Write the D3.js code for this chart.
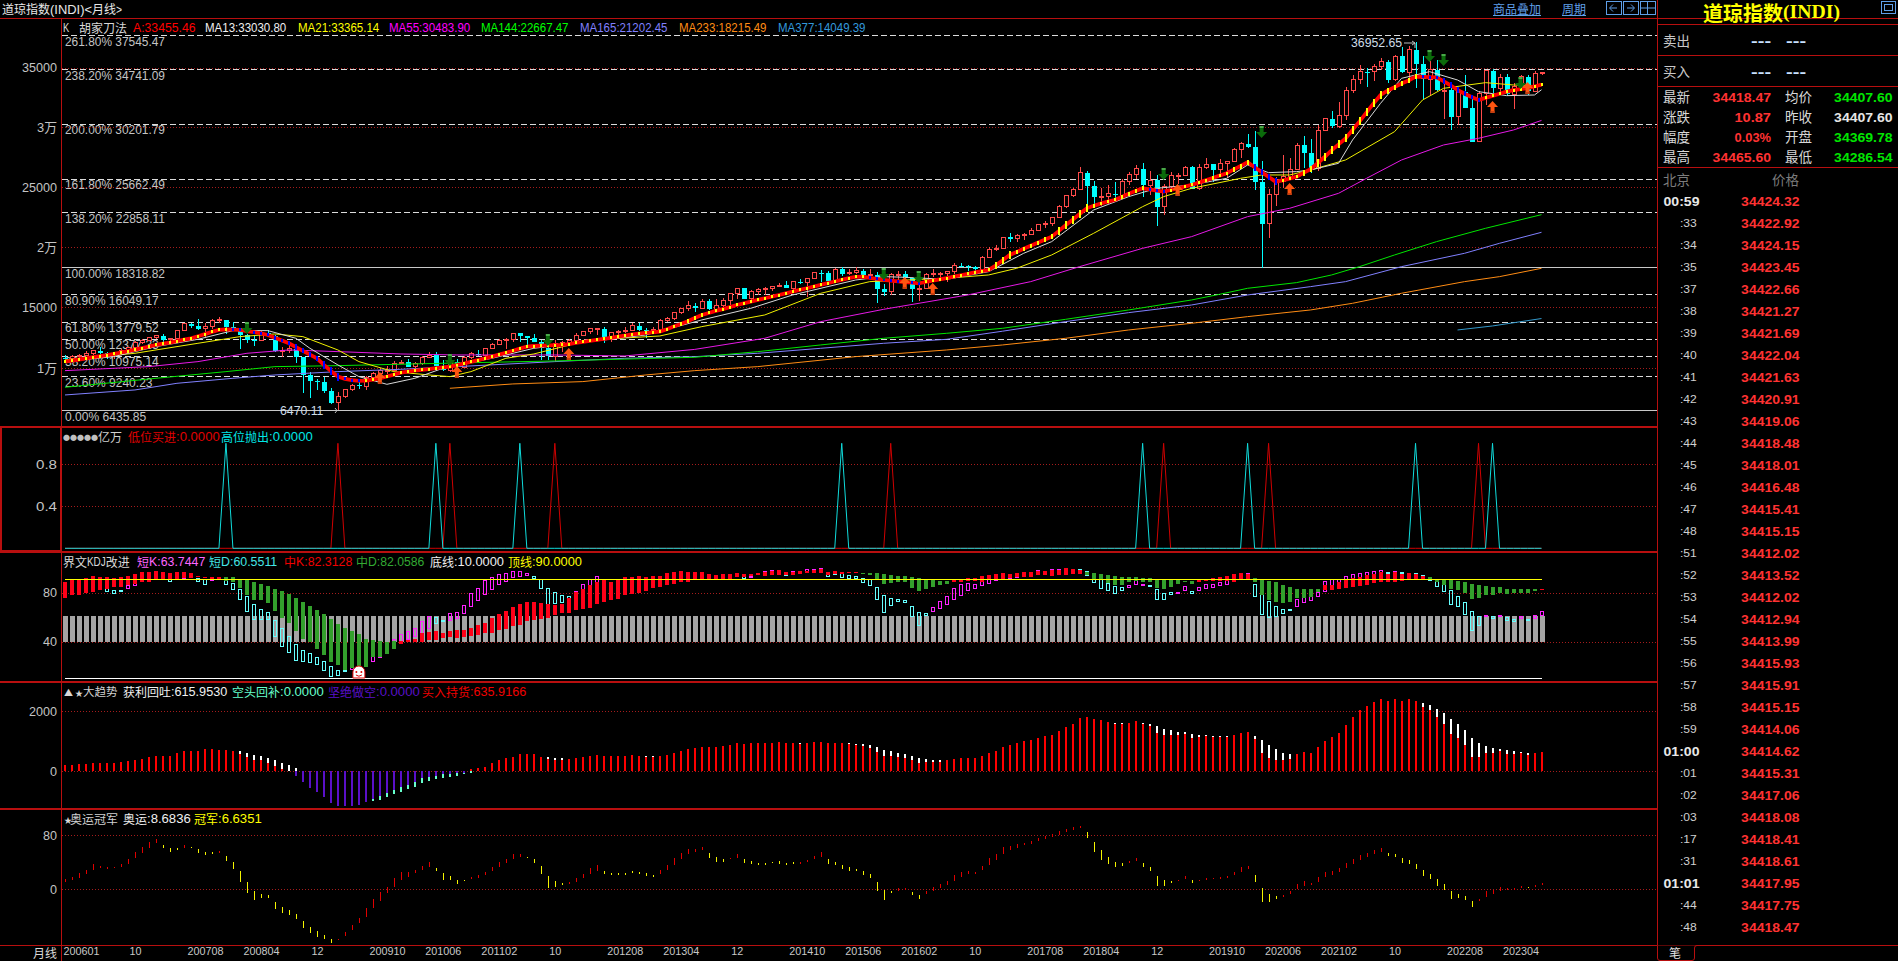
<!DOCTYPE html>
<html>
<head>
<meta charset="utf-8">
<title>道琼指数(INDI)<月线></title>
<style>
html, body { margin: 0; padding: 0; background: #000; overflow: hidden; }
svg { display: block; }
text { white-space: pre; }
</style>
</head>
<body>
<svg id="chart" width="1898" height="961"></svg>
<script src="https://cdn.jsdelivr.net/npm/d3@7"></script>
<script>
// monthly bars, first one is 200512, last one 202307
var opens = [10806,10718,10865,10993,11109,11367,11168,11150,11186,11381,11679,12081,12222,12463,12622,12269,12354,13063,13628,13409,13212,13358,13896,13930,13372,13265,12650,12266,12263,12820,12638,11350,11378,11544,10851,9325,8829,8776,8001,7063,7609,8168,8500,8447,9172,9496,9712,9713,10345,10428,10067,10325,10857,11009,10137,9774,10466,10015,10788,11118,11006,11578,11892,12226,12320,12811,12570,12414,12143,11614,10913,11955,12046,12218,12633,12952,13212,13214,12393,12880,13009,13091,13437,13096,13026,13104,13861,14054,14579,14840,15116,14910,15500,14810,15130,15546,16086,16577,15699,16322,16458,16581,16717,16827,16563,17098,17043,17391,17828,17823,17165,18133,17776,17841,18011,17620,17690,16528,16285,17664,17720,17425,16466,16517,17685,17774,17787,17930,18432,18401,18308,18142,19124,19763,19864,20812,20663,20941,21009,21350,21891,21948,22405,23377,24272,24719,26149,25029,24103,24163,24416,24271,25415,25965,26458,25116,25538,23327,25000,25916,25929,26593,24815,26600,26864,26403,26917,27046,28051,28538,28256,25409,21917,24346,25383,25813,26428,28430,27782,26502,29639,30606,29983,30932,32982,33875,34529,34503,34935,35361,33844,35820,34484,36338,35132,33893,34678,32977,32990,30775,32845,31510,28726,32733,34590,33147,34086,32657,33274,34098,32908,34408];
var closes = [10718,10865,10993,11109,11367,11168,11150,11186,11381,11679,12081,12222,12463,12622,12269,12354,13063,13628,13409,13212,13358,13896,13930,13372,13265,12650,12266,12263,12820,12638,11350,11378,11544,10851,9325,8829,8776,8001,7063,7609,8168,8500,8447,9172,9496,9712,9713,10345,10428,10067,10325,10857,11009,10137,9774,10466,10015,10788,11118,11006,11578,11892,12226,12320,12811,12570,12414,12143,11614,10913,11955,12046,12218,12633,12952,13212,13214,12393,12880,13009,13091,13437,13096,13026,13104,13861,14054,14579,14840,15116,14910,15500,14810,15130,15546,16086,16577,15699,16322,16458,16581,16717,16827,16563,17098,17043,17391,17828,17823,17165,18133,17776,17841,18011,17620,17690,16528,16285,17664,17720,17425,16466,16517,17685,17774,17787,17930,18432,18401,18308,18142,19124,19763,19864,20812,20663,20941,21009,21350,21891,21948,22405,23377,24272,24719,26149,25029,24103,24163,24416,24271,25415,25965,26458,25116,25538,23327,25000,25916,25929,26593,24815,26600,26864,26403,26917,27046,28051,28538,28256,25409,21917,24346,25383,25813,26428,28430,27782,26502,29639,30606,29983,30932,32982,33875,34529,34503,34935,35361,33844,35820,34484,36338,35132,33893,34678,32977,32990,30775,32845,31510,28726,32733,34590,33147,34086,32657,33274,34098,32908,34408,34418];
var highs = [10984,11043,11137,11317,11416,11709,11251,11289,11498,11725,12167,12361,12529,12696,12795,12462,13121,13692,13692,14021,13686,14005,14198,13703,13778,13279,12767,12622,12984,13136,12657,11698,11867,11790,10883,9654,9026,9175,8281,7925,8209,8588,8878,9244,9630,9917,10120,10496,10580,10730,10402,10958,11309,11259,10594,10584,10720,10948,11245,11452,11625,11986,12391,12419,12876,12876,12570,12751,12284,11717,12284,12188,12328,12842,13055,13289,13297,13338,12898,13103,13330,13653,13662,13290,13365,13969,14149,14586,14888,15542,15340,15634,15659,15710,15722,16174,16589,16588,16398,16588,16631,16736,16978,17152,17153,17351,17395,17895,18103,17951,18244,18289,18175,18351,18137,18137,17915,16933,17799,17977,17996,17405,16795,17790,18167,17935,18017,18622,18668,18450,18399,19226,19987,20126,20851,21170,21070,21113,21535,21929,22179,22420,23485,24327,24876,26617,26307,25449,24858,25087,25402,25641,26168,26770,26952,26277,25980,25240,26241,26156,26696,26668,26908,27398,26864,27306,27123,28175,28702,29373,29568,27102,24765,25759,27580,27386,28630,29199,28958,30116,30637,31272,32009,33259,34256,35091,34849,35171,35631,35510,35892,36565,36679,36953,35824,35372,35492,33484,33273,32910,34281,32504,32889,34595,34712,34334,34334,33572,34257,34257,34589,34466];
var lows = [10661,10667,10689,10940,10996,11003,10698,10684,11088,11277,11642,11955,12147,12383,12039,11939,12327,13009,13225,13123,12518,13219,13667,12725,13167,11508,12037,11731,12207,12479,11287,10827,11209,10365,7882,7449,8118,7909,6934,6470,7470,8057,8221,8087,9116,9253,9430,9678,10263,10026,9835,10233,10860,9774,9687,9614,9936,10016,10711,10929,11007,11577,11892,11555,12094,12072,11862,12093,10604,10597,10405,11231,11735,12217,12621,12742,12710,12035,12101,12492,12883,12977,13036,12471,12883,13105,13784,13937,14434,14688,14551,14975,14761,14777,14719,15074,15703,15699,15340,15960,16015,16334,16675,16560,16333,16946,15855,17386,17068,17138,17038,17586,17666,17736,17576,17399,15370,15942,16014,17210,17139,15450,15503,16545,17484,17331,17063,17713,18300,17992,17959,17884,19150,19678,19831,20412,20379,20553,21017,21279,21600,21710,22417,23243,24117,24741,23360,23509,23344,23532,23997,23997,25122,25655,24123,24268,21712,22638,24883,25209,25953,24793,24680,26443,25339,25978,25743,27011,27325,28170,24681,18213,20735,23361,24843,25523,26365,26537,26143,26268,29601,29857,29856,30548,32787,33473,33271,33741,34690,33613,33785,34424,34006,33150,32272,32578,32913,30636,29653,30144,32396,28715,28660,31728,32573,32812,32500,31429,33235,32586,32810,34287];

// 胡家刀法 A line, one value per month
var trendA = [10473,10560,10650,10750,10850,10930,11020,11110,11230,11350,11470,11600,11730,11857,11960,12060,12170,12290,12410,12580,12760,12940,13100,13140,13130,13100,13010,12920,12810,12686,12460,12230,11995,11680,11370,11060,10750,10200,9700,9229,9050,8930,8870,8900,8980,9090,9240,9400,9560,9640,9720,9790,9860,9930,10000,10059,10180,10320,10460,10600,10740,10889,11050,11210,11380,11550,11719,11770,11800,11820,11840,11855,11930,12020,12110,12190,12271,12360,12450,12540,12640,12742,12800,12860,12910,12960,13160,13380,13590,13830,14090,14345,14510,14680,14830,15000,15174,15310,15450,15590,15730,15860,16000,16140,16280,16420,16560,16700,16834,16980,17120,17260,17400,17500,17520,17430,17340,17248,17190,17130,17070,17020,16973,17080,17190,17300,17410,17525,17640,17760,17880,17980,18078,18450,18880,19322,19570,19830,20080,20330,20590,20843,21300,21780,22250,22720,23193,23400,23580,23740,23884,24140,24400,24630,24852,24770,24670,24576,24710,24850,24990,25129,25320,25510,25710,25900,26097,26400,26700,27008,26600,26200,25800,25405,25500,25650,25820,26130,26450,26926,27450,28000,28500,28990,29700,30400,31150,31900,32594,32950,33250,33550,33800,34115,34100,34080,34060,33750,33400,33009,32700,32430,32180,32350,32520,32700,32870,32990,33080,33170,33300,33455];

// moving averages, read at the months listed in the *Idx arrays
var ma13Idx = [0,7,13,19,24,29,33,35,39,42,46,50,54,61,67,77,83,91,98,104,113,117,120,126,132,137,141,147,152,156,161,166,169,172,176,178,182,184,188,191,195,199,202,206,210,211];
var ma13 = [10473,10890,11719,12326,13045,13045,12410,11580,10198,9230,8593,9091,9921,10750,11580,12271,12686,13930,14897,16004,17248,17525,17470,17300,17940,19460,20428,23055,24161,24852,25129,25681,26787,26151,26235,26373,26926,28861,31903,33977,34530,33838,32871,32539,32594,33030];
var ma21Idx = [0,10,19,25,30,34,39,42,47,52,55,58,63,67,75,85,91,100,108,115,126,132,136,141,147,154,157,161,168,171,175,178,183,190,194,197,203,207,211];
var ma21 = [10624,11165,11995,12547,12768,12547,11441,10474,9644,9368,9230,9644,10750,11110,12271,12602,13377,14345,16142,17110,17388,17663,18216,19322,21119,23331,24161,24852,25681,25958,25958,26373,27202,29553,32179,33147,33617,33423,33365];
var ma55Idx = [0,12,19,26,32,39,48,56,70,80,90,100,108,117,129,138,145,154,161,169,175,182,186,191,197,202,207,211];
var ma55 = [9727,10060,10474,11165,11442,11304,11110,11027,11027,10944,11490,12410,13792,14815,16003,17110,18355,19875,20843,22502,23193,24437,25681,27202,28447,29000,29691,30484];
var ma144Idx = [0,13,23,30,39,54,70,90,99,108,117,126,134,143,152,161,165,169,176,181,185,190,196,203,211];
var ma144 = [8345,9091,9644,10059,10142,10336,10530,10834,11303,11857,12410,12824,13239,13985,14760,15589,16059,16558,17028,17663,18354,19322,20428,21534,22667];
var ma165Idx = [0,10,16,24,30,39,48,56,70,80,90,99,108,117,126,134,143,152,161,169,178,183,191,200,205,211];
var ma165 = [7708,8124,8676,9091,9368,9644,9838,10059,10474,10750,10888,11165,11580,11995,12326,13000,13792,14538,15174,16004,16695,17110,18354,19460,20289,21202];
var ma233Idx = [55,64,74,83,90,99,113,126,134,143,152,161,169,178,184,191,200,205,211];
var ma233 = [8263,8622,8816,9368,9727,10059,10889,11441,11857,12410,13100,13654,14207,14760,15313,16145,17110,17525,18215];
var ma377Idx = [199,204,211];
var ma377 = [13100,13433,14049];

// fibonacci levels of the main panel
var fibLevels = [37545.47,34741.09,30201.79,25662.49,22858.11,18318.82,16049.17,13779.52,12377.33,10975.14,9240.23,6435.85];
var fibPct = ['261.80%','238.20%','200.00%','161.80%','138.20%','100.00%','80.90%','61.80%','50.00%','38.20%','23.60%','0.00%'];
var mainTicks = [34858,29914,24936,19958,14980,9920];
var mainTickLabels = ['35000','3万','25000','2万','15000','1万'];

var downArrowIdx = [26,55,69,117,122,157,171,195,197,208];
var downArrowVal = [13263,10608,12268,17744,17494,26040,29524,35825,35493,33585];
var upArrowIdx = [45,56,72,120,124,159,175,204,209];
var upArrowVal = [9115,9613,11106,17000,16500,24712,24795,31597,33173];

var sellSignalIdx = [23,53,65,111,154,169,193,204];
var buySignalIdx = [39,55,70,118,157,172,202];

// 界文KDJ改进
var shortK = [79,81,84,83,88.5,83,80,78.7,80.8,85,89,91.5,93.5,95,93.5,88,90.5,94,93.5,88,86,91,91.5,86,81.5,73.5,64,57.5,57.5,57.5,43.5,35.5,31,24,23.5,23,21,16.5,11.5,12,15.5,19,21.5,25.5,27.5,31.5,37,41.5,45.5,48,50.5,56,60,54,56,62.5,63.5,69,78.5,82.5,89,91.5,93.5,95,96.5,96,94.5,91,82.5,70,70.5,71,70.5,80,86,90,92.5,86.7,87,88.9,91,90.8,88,85.4,83.5,90,92.2,94.8,96,94.8,94.3,94.3,93,89.5,93.5,94,95,90.5,92.5,94.5,96,97,97.5,93,96.5,96.5,98,98,99,92,94,91.3,90.3,90.5,87.6,84.9,73.6,63,69,72,71,60,52.6,60.6,67.4,72.2,76.3,82.7,85.4,86.8,86,89.5,91.6,93,94.8,93.5,94.8,95.7,95.7,97.3,96.7,98,98,98.9,98,97,93,87.3,82.5,80.8,78.4,80.8,85,89.2,85.9,84,73.6,73.6,77.9,79.5,84.3,78.7,83.5,86,85.4,87.6,89.2,92.4,94.6,94.3,76,61.7,59,60,62.3,65.8,73.8,76.8,75.7,79.5,88.4,89.5,90,92.4,94,94.8,95.7,96.5,97.3,94.6,96.7,94.3,94.3,93,90.3,89.2,84.1,80,69.5,67.9,61.4,48.5,52.6,61,58.2,61,56.6,55.8,59.8,56.6,61,63.74];
var shortD = [77,78,80,81,84,84,82.7,81,81,82.7,85,88,89.5,92,92,91,90,91,91.5,91,89.5,89,89.5,89.5,87,82,76,70,66,63.5,57,50.5,43.5,37.5,32.5,30,27,23.5,19.5,16.5,16.3,17,16.7,20,23.5,27,30,34,38,41,43.5,46.5,50,59,57,57,58.5,62,68,73,77.5,82,86,88.5,91.5,92.5,93,92.5,89.5,82.5,79,77,76.5,73,77.5,82.5,86,87,87.3,87.3,88,88,90,88,87.5,87,89.5,89.5,92,92,92,92.2,92.2,92.2,91.5,93,93.5,92.7,92,93.5,94,96,96,95.4,95.5,95.5,96,96.5,97,94.8,94.6,94.3,92.7,92.4,90.8,89.5,83.3,77,74.6,73.8,73,68.2,63.4,62.5,63.9,66.3,69.3,73.6,77.3,80.8,82.5,84.9,86.8,88.9,90.8,91,91.6,92.7,93,94.3,94.8,93.5,94.3,96.2,94.8,98,96.7,94.3,89.5,86.8,84.3,83.3,83.3,85.7,85.7,85.1,81.9,78.7,79,78.7,80.8,80.3,80.8,82.7,83.3,84.9,86,88.1,90.3,90.8,86,77.9,71.7,68.2,65.8,66,67.9,71.1,73,76,80,82.7,85.4,88.1,89.5,90.8,93,93.5,94.8,95.1,95.4,95.1,94.8,94.8,93.2,91.6,90,86.5,81.1,76.3,71.4,64.1,60.1,60.4,60.1,60.1,59.3,57.7,58.5,57.9,58.2,60.55];
var midK = [88,89.5,90,91,93,92,92,91,92,93,94,95.5,96,97,95.5,95,95.5,96,95,92.5,92,91.5,92,88.5,87.5,83,77,73,73,70.5,64,58.5,54.5,48,42,39.5,34,29,23.5,21,16.5,18,19.5,19.5,27.5,27.5,29.5,34,40,41,42,46.5,47.5,48,47,48,49,49,50.5,53,55,59,62,64.5,68,70,71.5,71.5,70.5,70,69,70,74.5,80,82.5,85.5,87.5,89.5,88,89.5,91.5,92,92.5,91.5,92.5,93,95,96,96.5,95.5,95.5,95.5,94,93.5,94,94,95,94.5,94.5,95,96,97,97.5,95.5,96,97,97,97.5,98.5,96,97,95.5,95.5,95.5,94.5,93.5,90,86,87,87.5,87.5,83,80.5,82,84,85.5,86,90,90,91,91,92.5,93.5,94.5,95,94.5,95,95.5,95.5,97,96.5,97.5,97.5,99,98.5,97.5,93.5,90,89.5,87,85,85.5,87.5,88.5,88,88,83,82.5,84,86,88,86,90,90,91,91.5,92.5,94.5,95,94.5,88,77,73,71.5,70.5,72,74.5,75,76,79.5,85.5,85.5,87.5,90,91,91.5,93.5,94.5,95.5,94.5,95.5,94.5,95,94.5,93,89.5,88,85.5,82.5,81.5,79,74,75,77.5,77.5,79,78,79,79,79,80.5,82.31];
var midD = [75,77,77,79,80,81,82,84,84,85.5,86,87.5,87.5,89.5,89.5,90,90,91,91,91.5,91,90.5,90.5,91.5,91.5,90,89.5,88,86.5,84.5,82.5,80.5,78,74.5,72,68.5,65,62,58,54,50.5,48,45.5,42,41,40,39.5,40,38,39,39,39.5,41,41,42.5,43,42.5,43.5,44.5,45,47,47,49,50,52,53,56,57,58,59,61,62.5,62.5,65,66,67,70,72,73,74,77,78,79,80.5,83,84,85,86,88,88,89.5,89.5,90,89.5,89.5,90,92,91.5,93,93.5,93,93.5,93.5,93.5,93.5,94,95,95,95,93.5,94,94.5,95,95,95,95,95,94.5,93.5,92.5,92.5,91.5,91,90,89.5,88.5,88.5,88,88,89,89,88,90,89.5,90,91,91.5,92,92,93.5,93.5,92.5,93.5,93.5,94.5,94.5,95.5,95,94.5,93.5,92.5,92,92,92,91,91,90,90,90,90,88.5,88.5,87.5,89,88.5,89,89,88,89.5,90,91,90,88.5,87.5,85.5,83.5,82.5,82.5,82.5,82.5,81,81.5,82,83,84,84.5,85.5,87,87.5,87.5,88,89,89.5,89.5,89.5,91.5,90,90,89.5,88.5,87.5,86,85.5,84.5,84,83.5,82.5,82.5,82.5,82,82,82.06];
var grayBandTop = 60, grayBandBottom = 39.6;
var kdjGrid = [79.2,39.6];
var kdjGridLabels = ['80','40'];
var smileIdx = 42, smileVal = 14.3;

// 大趋势
var bigBuy = [211,211,244,244,278,278,267,278,311,333,367,411,489,511,511,511,622,678,678,689,744,733,711,711,678,578,467,378,378,289,178,78,22,0,0,0,0,0,0,0,0,0,0,0,0,0,0,0,0,0,0,0,0,0,0,0,0,0,78,122,133,278,378,456,489,578,578,578,489,400,378,378,411,433,467,511,544,511,511,511,511,544,511,489,489,522,544,600,689,744,789,811,800,811,856,889,944,922,944,944,944,944,978,956,933,922,956,978,978,956,944,944,922,878,844,778,644,511,511,478,456,378,289,311,322,322,378,400,444,444,444,511,611,678,811,878,944,1011,1044,1111,1178,1211,1344,1478,1578,1778,1811,1744,1711,1644,1578,1578,1611,1678,1578,1511,1278,1211,1211,1211,1244,1111,1144,1178,1144,1144,1144,1211,1278,1311,1078,611,444,378,378,411,578,644,611,811,1011,1144,1278,1544,1811,2044,2178,2311,2411,2344,2411,2344,2411,2344,2144,2044,1811,1578,1244,1111,878,478,478,611,611,678,578,578,611,544,611,636];
var profitIdx = [25,26,27,28,29,30,31,32,33,69,70,71,83,84,105,112,113,114,115,116,117,118,119,120,121,122,123,124,125,150,151,154,155,156,157,158,159,160,161,162,163,164,165,166,170,171,172,173,174,175,194,195,196,197,198,199,200,201,202,203,204,205,206,207,208,209];
var profitVal = [678,611,544,511,433,367,278,211,111,467,433,433,511,511,944,944,900,900,867,811,711,678,611,578,511,433,400,378,378,1611,1611,1611,1578,1511,1411,1378,1311,1311,1244,1211,1211,1178,1178,1178,1178,1044,878,744,611,578,2278,2211,2078,1944,1744,1578,1378,1111,956,844,778,744,711,678,644,611];
var shortIdx = [33,34,35,36,37,38,39,40,41,42,43,44,45,46,47,48,49,50,51,52,53,54,55,56,57];
var bigShort = [-156,-356,-556,-678,-867,-1067,-1144,-1156,-1156,-1133,-1033,-933,-822,-733,-622,-533,-456,-344,-233,-178,-144,-100,-89,-67,-44];
var coverIdx = [44,45,46,47,48,49,50,51,52,53,54,55,56,57,58];
var bigCover = [-978,-956,-867,-756,-678,-600,-511,-400,-322,-267,-211,-178,-144,-100,-67];

// 奥运冠军
var olyK = [14.8,17.8,23.7,28.6,37,34.6,32.6,33.1,37.5,44.4,55.3,62.2,70.6,74.6,61.7,55.3,58.3,65.7,61.2,53.8,51.4,52.3,56.3,42.5,30.1,10.9,-4.9,-15.8,-12.8,-12.3,-28.6,-35.6,-38,-43.9,-57.3,-64.7,-70.6,-74.1,-79,-73.6,-62.7,-52.8,-43,-27.7,-14.3,-4,4,16.3,25.7,26.2,28.6,35.1,40,27.7,13.8,13.8,7.9,11.9,18.8,21.2,26.2,32.6,40.5,44.4,52.3,52.8,46.9,39,22.7,2.5,3.5,6.4,10.9,17.3,23.2,32.1,36,23.2,21.2,21.2,21.7,23.7,23.2,20.2,18.8,28.6,36,46.9,54.3,59.8,59.3,62.2,46.4,40.5,40.5,46.4,52.3,39,37,35.6,36,38.5,37.5,36,37.5,40.5,43.5,49.4,55.3,37.5,36,30.1,27.7,26.7,21.7,16.8,-2.5,-15.8,-5.9,2.5,2,-8.4,-13.8,-2.5,3,7.9,12.3,20.7,25.2,27.2,26.2,34.6,46.9,52.3,62.2,64.7,67.7,68.1,71.6,76.5,79,81.5,86.9,89.4,92.8,94.3,76,55.3,43.5,37,33.1,34.6,42,46.9,33.1,27.2,4.9,4.9,9.4,13.8,19.8,9.4,13.8,16.8,16.8,18.3,19.8,25.7,33.1,34.6,10.9,-18.8,-18.8,-14.3,-8.4,-2.5,7.9,12.3,9.4,18.3,25.7,27.2,31.6,39,44.9,50.9,53.8,58.3,61.2,49.4,47.9,39,37.5,30.1,19.8,15.3,4.9,-1,-14.3,-12.8,-15.8,-26.2,-14.3,-2.5,-1,3.5,2,2,4.9,2,6.4,8.68];
var olyD = [10.9,13.8,16.3,22.7,28.6,31.1,30.6,31.6,32.6,37.5,45.9,53.3,61.7,68.1,65.7,61.7,61.7,61.7,62.7,59.8,55.3,55.3,53.8,49.4,40,27.2,10.9,-2.5,-7.4,-8.4,-18.3,-26.2,-30.6,-36.5,-46.9,-55.8,-61.7,-67.7,-73.1,-75,-69.1,-60.2,-50.4,-40.5,-27.2,-16.8,-5.9,3.5,13.8,18.8,23.7,28.6,33.6,32.1,24.7,19.8,13.8,13.3,14.8,16.8,21.2,27.7,33.6,39,44.9,48.4,47.9,44.9,34.6,19.8,12.3,8.9,7.9,11.4,16.3,22.7,27.7,27.7,24.7,23.7,24.7,27.2,26.2,23.7,21.2,22.7,28.6,36,44.4,52.3,55.8,58.3,54.3,47.9,44.9,44.9,45.9,44.9,42,39.5,39,41,41.5,39,40.5,37.5,41,44.4,48.4,44.9,40.5,36,33.1,29.6,27.2,22.7,10.9,-1,-2.5,-2,-1,-4,-8.4,-6.9,-3,2,6.4,11.9,18.3,22.7,22.7,28.6,36,43.5,52.3,58.3,61.2,65.7,67.7,71.6,75.1,78,80,84.9,87.9,91.4,84.9,70.1,58.3,47.9,40.5,39,39,42,39,33.1,19.8,13.8,12.3,11.9,15.3,13.8,12.3,13.8,14.8,15.3,16.8,21.2,25.7,30.1,21.2,2,-6.9,-9.9,-11.4,-6.9,0.5,4.9,6.4,10.9,18.3,21.2,25.7,31.6,37.5,43.5,47.9,52.3,55.3,53.8,52.3,46.4,43.5,37.5,28.6,22.7,15.3,7.9,-2.5,-6.9,-9.9,-17.3,-17.3,-11.4,-6.9,-2.5,-1,-1,2,3.5,3.5,6.64];

var xTickIdx = [1,10,20,28,36,46,54,62,70,80,88,96,106,114,122,130,140,148,156,166,174,182,190,200,208];
var xTickLabels = ['200601','10','200708','200804','12','200910','201006','201102','10','201208','201304','12','201410','201506','201602','10','201708','201804','12','201910','202006','202102','10','202208','202304'];

// right hand quote panel
var quoteLabels = ['最新','涨跌','幅度','最高'];
var quoteValues = ['34418.47','10.87','0.03%','34465.60'];
var quoteLabels2 = ['均价','昨收','开盘','最低'];
var quoteValues2 = ['34407.60','34407.60','34369.78','34286.54'];
var quoteColors2 = ['#00e600','#e6e6e6','#00e600','#00e600'];
var tapeTimes = ['00:59',':33',':34',':35',':37',':38',':39',':40',':41',':42',':43',':44',':45',':46',':47',':48',':51',':52',':53',':54',':55',':56',':57',':58',':59','01:00',':01',':02',':03',':17',':31','01:01',':44',':48'];
var tapePrices = ['34424.32','34422.92','34424.15','34423.45','34422.66','34421.27','34421.69','34422.04','34421.63','34420.91','34419.06','34418.48','34418.01','34416.48','34415.41','34415.15','34412.02','34413.52','34412.02','34412.94','34413.99','34415.93','34415.91','34415.15','34414.06','34414.62','34415.31','34417.06','34418.08','34418.41','34418.61','34417.95','34417.75','34418.47'];

var n = closes.length;
var RED = '#b80f0f', DOT = '#a51c1c';
var ASCII_FONT = "'Liberation Sans', sans-serif";
var CJK_FONT = "'Noto Sans CJK SC', sans-serif";

var x = d3.scaleLinear().domain([0, 211]).range([65, 1541.5]);
var yMain = d3.scaleLinear().domain([6435.85, 37545.47]).range([410.3, 35.3]);
var ySignal = d3.scaleLinear().domain([0, 1]).range([548.3, 443.3]);
var yKdj = d3.scaleLinear().domain([10, 90]).range([678.3, 579.3]);
var yBig = d3.scaleLinear().domain([0, 2000]).range([771.3, 711.3]);
var yOly = d3.scaleLinear().domain([0, 80]).range([889.3, 835.3]);

var svg = d3.select('#chart').style('background', '#000');

// draws a mixed string run by run: ascii fitted to a fixed advance, cjk at its own size
function label(g, str, px, py, color, o) {
  o = o || {};
  var aw = o.aw || 6.25, cw = o.cw || 12.5, size = o.size || 12;
  var runs = str.match(/[\x00-\x7f]+|[^\x00-\x7f]+/g) || [];
  runs.forEach(function(r) {
    var ascii = r.charCodeAt(0) < 128;
    var t = g.append('text').attr('x', px).attr('y', ascii ? py : py - 1)
      .attr('dominant-baseline', 'central').attr('fill', color).text(r);
    if (ascii) {
      t.attr('font-family', ASCII_FONT).attr('font-size', size)
        .attr('font-weight', o.bold ? 'bold' : 'normal')
        .attr('textLength', r.length * aw).attr('lengthAdjust', 'spacingAndGlyphs');
      px += r.length * aw;
    } else {
      t.attr('font-family', CJK_FONT).attr('font-size', cw)
        .attr('font-weight', o.bold ? 'bold' : 'normal');
      px += r.length * cw;
    }
  });
  return px;
}
function labelRight(g, str, right, py, color, o) {
  var aw = (o && o.aw) || 6.25;
  label(g, str, right - str.length * aw, py, color, o);
}

function hline(g, y0, x0, x1, color, w, dash) {
  g.append('line').attr('x1', x0).attr('x2', x1).attr('y1', y0).attr('y2', y0)
    .attr('stroke', color).attr('stroke-width', w || 1).attr('stroke-dasharray', dash || null)
    .attr('shape-rendering', 'crispEdges');
}
function vline(g, x0, y0, y1, color, w) {
  g.append('line').attr('x1', x0).attr('x2', x0).attr('y1', y0).attr('y2', y1)
    .attr('stroke', color).attr('stroke-width', w || 1).attr('shape-rendering', 'crispEdges');
}

function yAxis(scale, ticks, labels) {
  var ax = d3.axisLeft(scale).tickValues(ticks).tickSize(0).tickPadding(4)
    .tickFormat(function(d, i) { return labels[i]; });
  var g = svg.append('g').attr('transform', 'translate(61,0)').call(ax);
  g.select('.domain').remove();
  g.selectAll('text').attr('fill', '#c4c4c4')
    .attr('font-family', ASCII_FONT + ', ' + CJK_FONT).attr('font-size', 13)
    .each(function(d, i) {
      var s = labels[i], w = 0;
      for (var k = 0; k < s.length; k++) w += s.charCodeAt(k) < 128 ? 7 : 13;
      d3.select(this).attr('textLength', w).attr('lengthAdjust', 'spacingAndGlyphs');
    });
}
function gridlines(scale, ticks) {
  ticks.forEach(function(t) { hline(svg, Math.round(scale(t)) + 0.5, 62, 1657, DOT, 1, '1,2'); });
}

// ---------- main panel ----------
var gFibText = svg.append('g');
fibLevels.forEach(function(v, i) {
  label(gFibText, fibPct[i] + ' ' + v.toFixed(2), 65, yMain(v) + 6.5, '#c4c4c4');
});
gridlines(yMain, mainTicks);
fibLevels.forEach(function(v, i) {
  var solid = fibPct[i] === '100.00%' || fibPct[i] === '0.00%';
  hline(svg, Math.round(yMain(v)) + 0.5, 62, 1657, solid ? '#c8c8c8' : '#dcdcdc', 1, solid ? null : '6,3');
});
yAxis(yMain, mainTicks, mainTickLabels);

var candles = svg.append('g').attr('shape-rendering', 'crispEdges')
  .selectAll('g').data(d3.range(n)).join('g');
candles.append('line')
  .attr('x1', function(i) { return Math.round(x(i)) + 0.5; })
  .attr('x2', function(i) { return Math.round(x(i)) + 0.5; })
  .attr('y1', function(i) { return yMain(highs[i]); })
  .attr('y2', function(i) { return yMain(lows[i]); })
  .attr('stroke', function(i) { return closes[i] >= opens[i] ? '#ff4a4a' : '#00ffff'; });
candles.append('rect')
  .attr('x', function(i) { return Math.round(x(i)) + (closes[i] >= opens[i] ? -1.5 : -2); })
  .attr('width', function(i) { return closes[i] >= opens[i] ? 4 : 5; })
  .attr('y', function(i) { return yMain(Math.max(opens[i], closes[i])); })
  .attr('height', function(i) { return Math.max(1, Math.abs(yMain(opens[i]) - yMain(closes[i]))); })
  .attr('fill', function(i) { return closes[i] >= opens[i] ? '#000' : '#00ffff'; })
  .attr('stroke', function(i) { return closes[i] >= opens[i] ? '#ff4a4a' : 'none'; });

var maLine = d3.line().x(function(d) { return x(d[0]); }).y(function(d) { return yMain(d[1]); });
function drawMa(idx, vals, color, w) {
  svg.append('path').datum(d3.zip(idx, vals)).attr('d', maLine)
    .attr('fill', 'none').attr('stroke', color).attr('stroke-width', w || 1);
}
drawMa(ma377Idx, ma377, '#3399cc');
drawMa(ma233Idx, ma233, '#ff8c14');
drawMa(ma165Idx, ma165, '#8080ff');
drawMa(ma144Idx, ma144, '#00e600');
drawMa(ma55Idx, ma55, '#e619e6');
drawMa(ma21Idx, ma21, '#f0f000');
drawMa(ma13Idx, ma13, '#d8d8d8');

// thick trend line with a tick on every month, longer where the line is steep
svg.append('path').datum(trendA)
  .attr('d', d3.line().x(function(d, i) { return x(i); }).y(function(d) { return yMain(d); }))
  .attr('fill', 'none').attr('stroke', '#ff0000').attr('stroke-width', 3.8);
function tickLen(i) {
  var dy = i ? Math.abs(yMain(trendA[i]) - yMain(trendA[i - 1])) : 0;
  return Math.min(8, Math.max(3, dy * 1.4));
}
svg.append('g').selectAll('rect').data(d3.range(n)).join('rect')
  .attr('x', function(i) { return x(i) - 1; }).attr('width', 2)
  .attr('y', function(i) { return yMain(trendA[i]) - tickLen(i) / 2; })
  .attr('height', tickLen)
  .attr('fill', function(i) { return (i === 0 || trendA[i] >= trendA[i - 1]) ? '#ffff00' : '#0000ff'; })
  .attr('shape-rendering', 'crispEdges');

function arrows(idx, vals, dir, fill, top) {
  var g = svg.append('g').selectAll('g').data(d3.zip(idx, vals)).join('g')
    .attr('transform', function(d) { return 'translate(' + x(d[0]) + ',' + yMain(d[1]) + ') scale(1,' + dir + ')'; });
  g.append('path').attr('d', 'M-2,-6H2V0H5.5L0,6L-5.5,0H-2Z').attr('fill', fill);
  g.append('rect').attr('x', -2).attr('y', -6).attr('width', 4).attr('height', 2).attr('fill', top);
}
arrows(downArrowIdx, downArrowVal, 1, '#0b6b0b', '#4aa84a');
arrows(upArrowIdx, upArrowVal, -1, '#ff5510', '#c84010');

var gHiLo = svg.append('g');
label(gHiLo, '36952.65', 1351, 43, '#cfdde8', {aw: 6.4});
gHiLo.append('path').attr('d', 'M1404,43H1415M1412,41L1415,43L1412,45M1415,43V48')
  .attr('fill', 'none').attr('stroke', '#bcbcbc');
label(gHiLo, '6470.11', 280, 411, '#cfdde8', {aw: 6.2});
gHiLo.append('path').attr('d', 'M335,408L337,410.5L335,413').attr('fill', 'none').attr('stroke', '#bcbcbc');

// ---------- signal panel ----------
gridlines(ySignal, [0.8, 0.4]);
yAxis(ySignal, [0.8, 0.4], ['0.8', '0.4']);
var sigLine = d3.line().x(function(d, i) { return x(i); }).y(function(d) { return ySignal(d); });
svg.append('path').datum(d3.range(n).map(function(i) { return buySignalIdx.indexOf(i) >= 0 ? 1 : 0; }))
  .attr('d', sigLine).attr('fill', 'none').attr('stroke', '#d00000');
svg.append('path').datum(d3.range(n).map(function(i) { return sellSignalIdx.indexOf(i) >= 0 ? 1 : 0; }))
  .attr('d', sigLine).attr('fill', 'none').attr('stroke', '#10dcdc');

// ---------- kdj panel ----------
gridlines(yKdj, kdjGrid);
yAxis(yKdj, kdjGrid, kdjGridLabels);
var gKdj = svg.append('g').attr('shape-rendering', 'crispEdges');
gKdj.selectAll('rect.band').data(d3.range(n)).join('rect').attr('class', 'band')
  .attr('x', function(i) { return Math.round(x(i)) - 2; }).attr('width', 5)
  .attr('y', yKdj(grayBandTop)).attr('height', yKdj(grayBandBottom) - yKdj(grayBandTop))
  .attr('fill', '#a4a4a4');
gKdj.selectAll('rect.short').data(d3.range(n)).join('rect').attr('class', 'short')
  .attr('x', function(i) { return Math.round(x(i)) - 1.5; }).attr('width', 3)
  .attr('y', function(i) { return yKdj(Math.max(shortK[i], shortD[i])); })
  .attr('height', function(i) { return Math.max(1, Math.abs(yKdj(shortK[i]) - yKdj(shortD[i]))); })
  .attr('fill', 'none')
  .attr('stroke', function(i) { return shortK[i] >= shortD[i] ? '#ff22ff' : '#66ffff'; });
gKdj.selectAll('rect.mid').data(d3.range(n)).join('rect').attr('class', 'mid')
  .attr('x', function(i) { return Math.round(x(i)) - 2; }).attr('width', 4)
  .attr('y', function(i) { return yKdj(Math.max(midK[i], midD[i])); })
  .attr('height', function(i) { return Math.max(1, Math.abs(yKdj(midK[i]) - yKdj(midD[i]))); })
  .attr('fill', function(i) { return midK[i] >= midD[i] ? '#ff0018' : '#33a02c'; });
hline(svg, Math.round(yKdj(90)) + 0.5, 65, 1542, '#ffff00', 1.5);
hline(svg, Math.round(yKdj(10)) + 0.5, 65, 1542, '#ffffff', 1.5);

var smile = svg.append('g').attr('transform', 'translate(' + x(smileIdx) + ',' + yKdj(smileVal) + ')');
smile.append('path').attr('d', 'M-6,5V-1A6,6 0 0 1 6,-1V5Z').attr('fill', '#fff').attr('stroke', '#e00000');
smile.append('circle').attr('cx', -2.5).attr('cy', -1).attr('r', 1).attr('fill', '#e00000');
smile.append('circle').attr('cx', 2.5).attr('cy', -1).attr('r', 1).attr('fill', '#e00000');
smile.append('path').attr('d', 'M-3,2Q0,4.5 3,2').attr('fill', 'none').attr('stroke', '#e00000');

// ---------- big trend panel ----------
gridlines(yBig, [2000, 0]);
yAxis(yBig, [2000, 0], ['2000', '0']);
var gBig = svg.append('g').attr('shape-rendering', 'crispEdges');
function bigBars(idx, vals, color) {
  gBig.append('g').selectAll('rect').data(d3.zip(idx, vals)).join('rect')
    .attr('x', function(d) { return Math.round(x(d[0])) - 1; }).attr('width', 2)
    .attr('y', function(d) { return Math.min(yBig(0), yBig(d[1])); })
    .attr('height', function(d) { return Math.abs(yBig(d[1]) - yBig(0)); })
    .attr('fill', color);
}
bigBars(coverIdx, bigCover, '#66ffcc');
bigBars(shortIdx, bigShort, '#5a10c8');
bigBars(profitIdx, profitVal, '#ffffff');
bigBars(d3.range(n), bigBuy, '#ff0000');

// ---------- olympic panel ----------
gridlines(yOly, [80, 0]);
yAxis(yOly, [80, 0], ['80', '0']);
svg.append('g').attr('shape-rendering', 'crispEdges')
  .selectAll('line').data(d3.range(n)).join('line')
  .attr('x1', function(i) { return Math.round(x(i)) + 0.5; })
  .attr('x2', function(i) { return Math.round(x(i)) + 0.5; })
  .attr('y1', function(i) { return yOly(olyK[i]); })
  .attr('y2', function(i) { return yOly(olyD[i]); })
  .attr('stroke', function(i) { return olyK[i] >= olyD[i] ? '#e00000' : '#f5f500'; });

// ---------- x axis ----------
var xAxis = svg.append('g').attr('transform', 'translate(0,945)')
  .call(d3.axisBottom(x).tickValues(xTickIdx).tickSize(0).tickPadding(2)
    .tickFormat(function(d, i) { return xTickLabels[i]; }));
xAxis.select('.domain').remove();
xAxis.selectAll('text').attr('fill', '#c8c8c8').attr('font-family', ASCII_FONT).attr('font-size', 11.5)
  .each(function(d, i) {
    var t = d3.select(this).attr('textLength', xTickLabels[i].length * 6).attr('lengthAdjust', 'spacingAndGlyphs');
    if (i === 0) t.attr('x', 81 - x(d));
  });
label(svg, '月线', 33, 953, '#d8d8d8', {cw: 12});

// ---------- frame ----------
hline(svg, 18.5, 0, 1898, RED, 1);
hline(svg, 426.5, 0, 1657, RED, 2);
hline(svg, 551.5, 0, 1657, RED, 2);
hline(svg, 681.5, 0, 1657, RED, 2);
hline(svg, 808.5, 0, 1657, RED, 2);
hline(svg, 945.5, 0, 1898, RED, 1);
vline(svg, 61.5, 18, 961, RED);
vline(svg, 1657.5, 0, 945, RED, 1);
svg.append('rect').attr('x', 1).attr('y', 427).attr('width', 60).attr('height', 124)
  .attr('fill', 'none').attr('stroke', RED).attr('stroke-width', 2);

// ---------- titles and legends ----------
var gTxt = svg.append('g');
label(gTxt, '道琼指数(INDI)<月线>', 2, 9.5, '#e8e8e8', {aw: 6, cw: 12});
label(gTxt, 'K', 63, 28, '#d8d8d8');
label(gTxt, '胡家刀法', 79, 28, '#d8d8d8', {cw: 12});
label(gTxt, 'A:33455.46', 133, 28, '#ff0000');
label(gTxt, 'MA13:33030.80', 205, 28, '#f0f0f0');
label(gTxt, 'MA21:33365.14', 298, 28, '#ffff00');
label(gTxt, 'MA55:30483.90', 389, 28, '#ff00ff');
label(gTxt, 'MA144:22667.47', 481, 28, '#00ff00');
label(gTxt, 'MA165:21202.45', 580, 28, '#8080ff');
label(gTxt, 'MA233:18215.49', 679, 28, '#ff8c14');
label(gTxt, 'MA377:14049.39', 778, 28, '#3399dd');

gTxt.append('text').attr('x', 63).attr('y', 437).attr('dominant-baseline', 'central')
  .attr('font-family', CJK_FONT).attr('font-size', 7).attr('fill', '#c0c0c0').text('●●●●●');
label(gTxt, '亿万', 98, 437, '#d0d0d0', {cw: 12});
label(gTxt, '低位买进:0.0000', 128, 437, '#e00000', {cw: 12});
label(gTxt, '高位抛出:0.0000', 221, 437, '#00e6e6', {cw: 12});

label(gTxt, '界文KDJ改进', 63, 562, '#d8d8d8', {cw: 12});
label(gTxt, '短K:63.7447', 137, 562, '#ff66ff', {cw: 12});
label(gTxt, '短D:60.5511', 209, 562, '#44e6e6', {cw: 12});
label(gTxt, '中K:82.3128', 284, 562, '#f00000', {cw: 12});
label(gTxt, '中D:82.0586', 356, 562, '#33aa33', {cw: 12});
label(gTxt, '底线:10.0000', 430, 562, '#f0f0f0', {cw: 12});
label(gTxt, '顶线:90.0000', 508, 562, '#ffff00', {cw: 12});

gTxt.append('text').attr('x', 64).attr('y', 692).attr('dominant-baseline', 'central')
  .attr('font-family', CJK_FONT).attr('font-size', 9).attr('fill', '#d8d8d8').text('▲');
gTxt.append('text').attr('x', 75).attr('y', 692).attr('dominant-baseline', 'central')
  .attr('font-family', CJK_FONT).attr('font-size', 8).attr('fill', '#d8d8d8').text('★');
label(gTxt, '大趋势', 83, 692, '#d0d0d0', {cw: 11.5});
label(gTxt, '获利回吐:615.9530', 123, 692, '#f0f0f0', {cw: 12});
label(gTxt, '空头回补:0.0000', 232, 692, '#66ffcc', {cw: 12});
label(gTxt, '坚绝做空:0.0000', 328, 692, '#5a10c8', {cw: 12});
label(gTxt, '买入持货:635.9166', 422, 692, '#f00000', {cw: 12});

gTxt.append('text').attr('x', 64).attr('y', 819).attr('dominant-baseline', 'central')
  .attr('font-family', CJK_FONT).attr('font-size', 8).attr('fill', '#d8d8d8').text('★');
label(gTxt, '奥运冠军', 70, 819, '#d0d0d0', {cw: 12});
label(gTxt, '奥运:8.6836', 123, 819, '#f0f0f0', {cw: 12});
label(gTxt, '冠军:6.6351', 194, 819, '#ffff00', {cw: 12});

// toolbar
var LINK = '#5f9fe8';
var gBar = svg.append('g');
[['商品叠加', 1493], ['周期', 1562]].forEach(function(d) {
  label(gBar, d[0], d[1], 9, LINK, {cw: 12});
  hline(gBar, 15.5, d[1], d[1] + d[0].length * 12, LINK);
});
[[1606, 'M1617,8H1610M1613,4.5L1609.5,8L1613,11.5'],
 [1623, 'M1627,8H1634M1631,4.5L1634.5,8L1631,11.5'],
 [1640, 'M1640,8H1655M1647.5,1V15']].forEach(function(d) {
  gBar.append('rect').attr('x', d[0] + 0.5).attr('y', 1.5).attr('width', 15).attr('height', 13)
    .attr('fill', 'none').attr('stroke', LINK);
  gBar.append('path').attr('d', d[1]).attr('fill', 'none').attr('stroke', LINK);
});
gBar.append('rect').attr('x', 1881.5).attr('y', 1.5).attr('width', 14).attr('height', 12)
  .attr('fill', 'none').attr('stroke', LINK);
gBar.append('rect').attr('x', 1884.5).attr('y', 4.5).attr('width', 8).attr('height', 6)
  .attr('fill', 'none').attr('stroke', LINK);

// ---------- right hand panel ----------
var gSide = svg.append('g');
var px = label(gSide, '道琼指数', 1703, 13, '#ffff00', {cw: 20, bold: true});
gSide.append('text').attr('x', px).attr('y', 12).attr('dominant-baseline', 'central')
  .attr('font-family', "'Liberation Serif', serif").attr('font-size', 18).attr('font-weight', 'bold')
  .attr('fill', '#ffff00').attr('textLength', 57).attr('lengthAdjust', 'spacingAndGlyphs').text('(INDI)');
[24.5, 55.5, 86.5, 167.5].forEach(function(y0) { hline(gSide, y0, 1658, 1898, RED, 1); });

var QUOTE = {aw: 7.3, size: 13, bold: true};
[['卖出', 41], ['买入', 72]].forEach(function(d) {
  label(gSide, d[0], 1663, d[1], '#c8c8c8', {cw: 13.5});
  label(gSide, '---', 1751, d[1], '#c8e0ff', {aw: 6.7, size: 14, bold: true});
  label(gSide, '---', 1786, d[1], '#c8e0ff', {aw: 6.7, size: 14, bold: true});
});
quoteLabels.forEach(function(s, i) {
  var yy = 97 + i * 20;
  label(gSide, s, 1663, yy, '#d8d8d8', {cw: 13.5});
  labelRight(gSide, quoteValues[i], 1771, yy, '#ff3232', QUOTE);
  label(gSide, quoteLabels2[i], 1785, yy, '#d8d8d8', {cw: 13.5});
  labelRight(gSide, quoteValues2[i], 1892.5, yy, quoteColors2[i], QUOTE);
});
label(gSide, '北京', 1663, 180, '#7c7c7c', {cw: 13.5});
label(gSide, '价格', 1772, 180, '#7c7c7c', {cw: 13.5});
tapeTimes.forEach(function(t, i) {
  var yy = 201 + i * 22;
  if (t.charAt(0) === ':') label(gSide, t, 1680, yy, '#d0d0d0', {aw: 5.6, size: 11});
  else label(gSide, t, 1663.5, yy, '#e8e8e8', {aw: 7.2, size: 13, bold: true});
  labelRight(gSide, tapePrices[i], 1799.5, yy, '#ff3232', QUOTE);
});
gSide.append('path').attr('d', 'M1657.5,945.5V958Q1657.5,960.5 1660,960.5H1692Q1694.5,960.5 1694.5,958V948Q1694.5,945.5 1697,945.5')
  .attr('fill', '#000').attr('stroke', RED);
label(gSide, '笔', 1669, 953, '#e0e0e0', {cw: 12});
</script>
</body>
</html>
